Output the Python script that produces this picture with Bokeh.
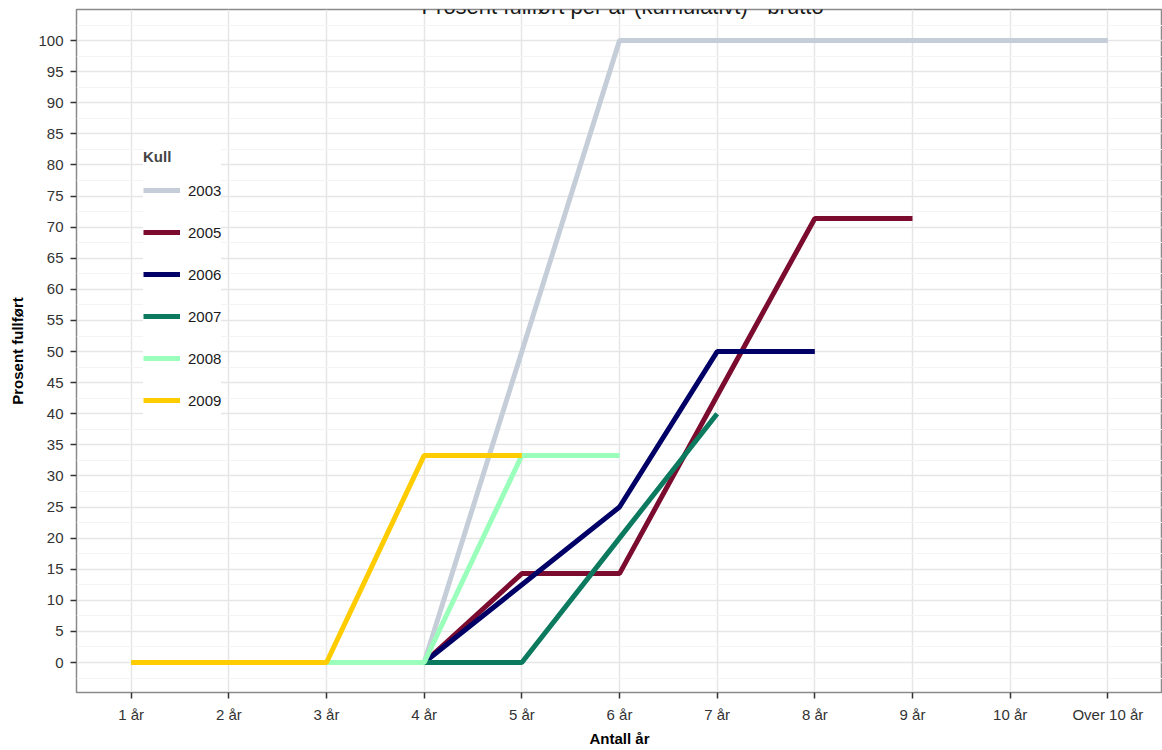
from bokeh.plotting import figure
from bokeh.models import FactorRange, Range1d, FixedTicker, Legend, LegendItem, Label
from bokeh.embed import file_html
from bokeh.resources import INLINE

years = ["1 år", "2 år", "3 år", "4 år", "5 år", "6 år", "7 år", "8 år", "9 år", "10 år", "Over 10 år"]
kull = ["2003", "2005", "2006", "2007", "2008", "2009"]
colors = ["#c5ced8", "#7b0c2f", "#000066", "#0b7a5e", "#99ffbb", "#ffcc00"]

v2003 = [0, 0, 0, 0, 50, 100, 100, 100, 100, 100, 100]
v2005 = [0, 0, 0, 0, 14.3, 14.3, 42.9, 71.4, 71.4]
v2006 = [0, 0, 0, 0, 12.5, 25, 50, 50]
v2007 = [0, 0, 0, 0, 0, 20, 40]
v2008 = [0, 0, 0, 0, 33.3, 33.3]
v2009 = [0, 0, 0, 33.3, 33.3]
series = [v2003, v2005, v2006, v2007, v2008, v2009]

y_ticks = list(range(0, 101, 5))
y_minor = [t + 2.5 for t in range(-5, 101, 5)]

FONT = "Liberation Sans"

p = figure(
    width=1162, height=750,
    x_range=FactorRange(factors=years, range_padding=0.06, range_padding_units="absolute"),
    y_range=Range1d(-4.82, 105),
    output_backend="svg", toolbar_location=None,
    min_border_left=76, min_border_right=0, min_border_top=9, min_border_bottom=58,
)
p.background_fill_color = "white"
p.border_fill_color = "white"
p.outline_line_color = "#8a8a8a"
p.outline_line_width = 1.5

items = []
for k, vals, c in zip(kull, series, colors):
    r = p.line(years[:len(vals)], vals, line_color=c, line_width=5)
    items.append(LegendItem(label=k, renderers=[r]))

# axes
p.yaxis.ticker = FixedTicker(ticks=y_ticks, minor_ticks=y_minor)
for ax in (p.xaxis[0], p.yaxis[0]):
    ax.axis_line_color = None
    ax.major_tick_line_color = "#333333"
    ax.major_tick_line_width = 1.5
    ax.major_tick_out = 6
    ax.major_tick_in = 0
    ax.minor_tick_line_color = None
    ax.major_label_text_font = FONT
    ax.major_label_text_font_size = "15px"
    ax.major_label_text_color = "#333333"
    ax.axis_label_text_font = FONT
    ax.axis_label_text_font_size = "15px"
    ax.axis_label_text_font_style = "bold"
    ax.axis_label_text_color = "black"
p.xaxis.axis_label = "Antall år"
p.yaxis.axis_label = "Prosent fullført"
p.xaxis.major_label_standoff = 7
p.xaxis.axis_label_standoff = 4
p.yaxis.major_label_standoff = 7
p.yaxis.axis_label_standoff = 9

# grid
p.xgrid.grid_line_color = "#e6e6e6"
p.xgrid.grid_line_width = 1.5
p.ygrid.grid_line_color = "#e6e6e6"
p.ygrid.grid_line_width = 1.5
p.ygrid.minor_grid_line_color = "#f4f4f4"
p.ygrid.minor_grid_line_width = 1

legend = Legend(
    items=items, location=(67, 271),
    title="Kull", title_text_font=FONT, title_text_font_size="15px",
    title_text_font_style="bold", title_standoff=4,
    label_text_font=FONT, label_text_font_size="15px", label_text_color="#1a1a1a",
    glyph_width=37, glyph_height=42, label_height=42, label_standoff=8, spacing=0,
    padding=2, margin=0, border_line_color=None,
    background_fill_color="white", background_fill_alpha=1,
)
p.add_layout(legend, "center")

title = Label(
    x=546, y=686, x_units="screen", y_units="screen",
    text="Prosent fullført per år (kumulativt) - brutto",
    text_font=FONT, text_font_size="22px", text_color="#1a1a1a",
    text_align="center", text_baseline="alphabetic",
)
p.add_layout(title)

open("out.html", "w").write(file_html(p, INLINE))
